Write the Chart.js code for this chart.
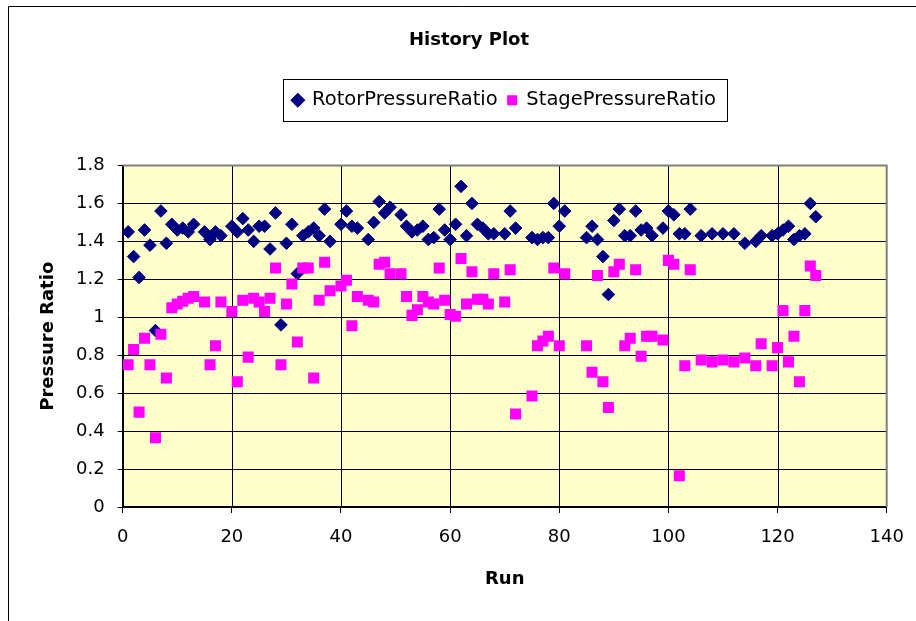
<!DOCTYPE html>
<html>
<head>
<meta charset="utf-8">
<title>History Plot</title>
<script src="https://cdn.jsdelivr.net/npm/chart.js@4.4.1/dist/chart.umd.min.js"></script>
<style>
    body { margin: 0; background: #fff; }
    canvas { display: block; }
</style>
</head>
<body>
<canvas id="chartHistory" width="916" height="621"></canvas>
<script>

// numéros d'essai (certains essais manquent)
const runs = [1, 2, 3, 4, 5, 6, 7, 8, 9, 10, 11, 12, 13, 15, 16, 17, 18, 20, 21, 22,
    23, 24, 25, 26, 27, 28, 29, 30, 31, 32, 33, 34, 35, 36, 37, 38, 40, 41, 42, 43,
    45, 46, 47, 48, 49, 51, 52, 53, 54, 55, 56, 57, 58, 59, 60, 61, 62, 63, 64, 65,
    66, 67, 68, 70, 71, 72, 75, 76, 77, 78, 79, 80, 81, 85, 86, 87, 88, 89, 90, 91,
    92, 93, 94, 95, 96, 97, 99, 100, 101, 102, 103, 104, 106, 108, 110, 112, 114, 116, 117, 119,
    120, 121, 122, 123, 124, 125, 126, 127];

const rotorPressureRatio = [1.45, 1.32, 1.21, 1.46, 1.38, 0.93, 1.56, 1.39, 1.49, 1.46, 1.47, 1.45, 1.49, 1.45, 1.41, 1.45, 1.43, 1.48, 1.45, 1.52,
    1.46, 1.40, 1.48, 1.48, 1.36, 1.55, 0.96, 1.39, 1.49, 1.23, 1.43, 1.45, 1.47, 1.43, 1.57, 1.40, 1.49, 1.56, 1.48, 1.47,
    1.41, 1.50, 1.61, 1.55, 1.58, 1.54, 1.48, 1.45, 1.46, 1.48, 1.41, 1.42, 1.57, 1.46, 1.41, 1.49, 1.69, 1.43, 1.60, 1.49,
    1.47, 1.44, 1.44, 1.44, 1.56, 1.47, 1.42, 1.41, 1.42, 1.42, 1.60, 1.48, 1.56, 1.42, 1.48, 1.41, 1.32, 1.12, 1.51, 1.57,
    1.43, 1.43, 1.56, 1.46, 1.47, 1.43, 1.47, 1.56, 1.54, 1.44, 1.44, 1.57, 1.43, 1.44, 1.44, 1.44, 1.39, 1.40, 1.43, 1.43,
    1.44, 1.46, 1.48, 1.41, 1.43, 1.44, 1.60, 1.53];

const stagePressureRatio = [0.75, 0.83, 0.50, 0.89, 0.75, 0.365, 0.91, 0.68, 1.05, 1.07, 1.085, 1.10, 1.11, 1.08, 0.75, 0.85, 1.08, 1.03, 0.66, 1.09,
    0.79, 1.10, 1.08, 1.03, 1.10, 1.26, 0.75, 1.07, 1.175, 0.87, 1.26, 1.26, 0.68, 1.09, 1.29, 1.14, 1.165, 1.195, 0.955, 1.11,
    1.09, 1.08, 1.28, 1.29, 1.23, 1.23, 1.11, 1.01, 1.04, 1.11, 1.08, 1.07, 1.26, 1.09, 1.015, 1.005, 1.31, 1.07, 1.24, 1.095,
    1.095, 1.07, 1.23, 1.08, 1.25, 0.49, 0.585, 0.85, 0.875, 0.90, 1.26, 0.85, 1.23, 0.85, 0.71, 1.22, 0.66, 0.525, 1.24, 1.28,
    0.85, 0.89, 1.25, 0.795, 0.90, 0.90, 0.88, 1.30, 1.28, 0.165, 0.745, 1.25, 0.775, 0.765, 0.775, 0.765, 0.785, 0.745, 0.86, 0.745,
    0.84, 1.035, 0.765, 0.90, 0.66, 1.035, 1.27, 1.22];

const xTicks = [0, 20, 40, 60, 80, 100, 120, 140];
const yTicks = [0, 0.2, 0.4, 0.6, 0.8, 1, 1.2, 1.4, 1.6, 1.8];


// espace entre la légende et la zone de tracé
const margeLegende = {
    id: 'margeLegende',
    beforeInit(chart) {
        const fitOrigine = chart.legend.fit;
        chart.legend.fit = function () {
            fitOrigine.call(this);
            this.height += 45.5;
        };
    }
};

// fond jaune, quadrillage, cadre gris, bordure du graphique et cadre de la légende
const cadre = {
    id: 'cadre',
    beforeDraw(chart) {
        const { ctx, chartArea: a } = chart;
        ctx.save();
        ctx.fillStyle = '#ffffcc';
        ctx.fillRect(a.left, a.top, a.right - a.left, a.bottom - a.top);
        ctx.strokeStyle = '#000';
        ctx.lineWidth = 1;
        ctx.beginPath();
        ctx.moveTo(8.5, chart.height);
        ctx.lineTo(8.5, 6.5);
        ctx.lineTo(chart.width, 6.5);
        ctx.stroke();
        ctx.restore();
    },
    beforeDatasetsDraw(chart) {
        const { ctx, chartArea: a, scales } = chart;
        const gauche = Math.round(a.left);
        const haut = Math.round(a.top);
        const largeur = Math.round(a.right) - gauche;
        const hauteur = Math.round(a.bottom) - haut;
        ctx.save();
        // quadrillage noir d'un pixel, sans les axes ni le cadre
        ctx.fillStyle = '#000000';
        xTicks.slice(1, -1).forEach(v => {
            ctx.fillRect(Math.round(scales.x.getPixelForValue(v)), haut, 1, hauteur);
        });
        yTicks.slice(1, -1).forEach(v => {
            ctx.fillRect(gauche, Math.round(scales.y.getPixelForValue(v)), largeur, 1);
        });
        // cadre gris en haut et à droite
        ctx.strokeStyle = '#808080';
        ctx.lineWidth = 2;
        ctx.beginPath();
        ctx.moveTo(a.left, a.top);
        ctx.lineTo(a.right, a.top);
        ctx.lineTo(a.right, a.bottom);
        ctx.stroke();
        ctx.restore();
    },
    afterDraw(chart) {
        const boxes = chart.legend.legendHitBoxes;
        if (!boxes || !boxes.length) return;
        const first = boxes[0];
        const last = boxes[boxes.length - 1];
        const ctx = chart.ctx;
        ctx.save();
        ctx.strokeStyle = '#000';
        ctx.lineWidth = 1;
        const x = Math.round(first.left - 10) + 0.5;
        const y = Math.round(first.top + first.height / 2 - 21) + 0.5;
        const w = Math.round(last.left + last.width + 11 - x);
        ctx.strokeRect(x, y, w, 42);
        ctx.restore();
    }
};


function afficherHistorique() {
    const canvas = document.getElementById('chartHistory');
    if (!canvas) {
        console.error("Canvas #chartHistory introuvable !");
        return;
    }
    const ctx = canvas.getContext('2d');

    Chart.defaults.font.family = 'DejaVu Sans';
    Chart.defaults.color = '#000';

    const rotor = runs.map((r, i) => ({ x: r, y: rotorPressureRatio[i] }));
    const stage = runs.map((r, i) => ({ x: r, y: stagePressureRatio[i] }));

    new Chart(ctx, {
        type: 'scatter',
        data: {
            datasets: [{
                label: 'RotorPressureRatio',
                data: rotor,
                pointStyle: 'rectRot',
                pointRadius: 6.3,
                backgroundColor: '#000080',
                borderColor: '#000080',
                borderWidth: 1,
                order: 1
            }, {
                label: 'StagePressureRatio',
                data: stage,
                pointStyle: 'rect',
                pointRadius: 7.8,
                backgroundColor: '#ff00ff',
                borderColor: '#ff00ff',
                borderWidth: 0,
                order: 0 // dessinée par-dessus
            }]
        },
        options: {
            responsive: false,
            animation: false,
            devicePixelRatio: 1,
            layout: {
                padding: { top: 0, left: 0, bottom: 0, right: -22 }
            },
            plugins: {
                title: {
                    display: true,
                    text: 'History Plot',
                    font: { size: 18, weight: 'bold' },
                    padding: { top: 29.2, bottom: 29.7 }
                },
                legend: {
                    display: true,
                    position: 'top',
                    fullSize: false,
                    labels: {
                        usePointStyle: true,
                        boxWidth: 9,
                        boxHeight: 10,
                        padding: 10,
                        font: { size: 19.5 },
                        sort: (a, b) => a.datasetIndex - b.datasetIndex
                    }
                },
                tooltip: { enabled: false }
            },
            scales: {
                x: {
                    type: 'linear',
                    min: 0,
                    max: 140,
                    afterBuildTicks: s => { s.ticks = xTicks.map(v => ({ value: v })); },
                    afterFit: s => { s.height = 114; s.paddingRight = 29.3; },
                    ticks: {
                        font: { size: 18 },
                        padding: 14,
                        callback: v => String(v)
                    },
                    grid: {
                        drawOnChartArea: false,
                        color: '#000',
                        tickColor: '#000',
                        tickLength: 6,
                        lineWidth: 1
                    },
                    border: { color: '#000', width: 2 },
                    title: {
                        display: true,
                        text: 'Run',
                        font: { size: 18, weight: 'bold' },
                        padding: { top: 0, bottom: 31.2 }
                    }
                },
                y: {
                    type: 'linear',
                    min: 0,
                    max: 1.8,
                    afterBuildTicks: s => { s.ticks = yTicks.map(v => ({ value: v })); },
                    afterFit: s => { s.width = 122.7; },
                    ticks: {
                        font: { size: 18 },
                        padding: 13,
                        callback: v => String(v)
                    },
                    grid: {
                        drawOnChartArea: false,
                        color: '#000',
                        tickColor: '#000',
                        tickLength: 5,
                        lineWidth: 1
                    },
                    border: { color: '#000', width: 2 },
                    title: {
                        display: true,
                        text: 'Pressure Ratio',
                        font: { size: 18, weight: 'bold' },
                        padding: { top: 37.7, bottom: 0 }
                    }
                }
            }
        },
        plugins: [margeLegende, cadre]
    });
}

afficherHistorique();
</script>
</body>
</html>
